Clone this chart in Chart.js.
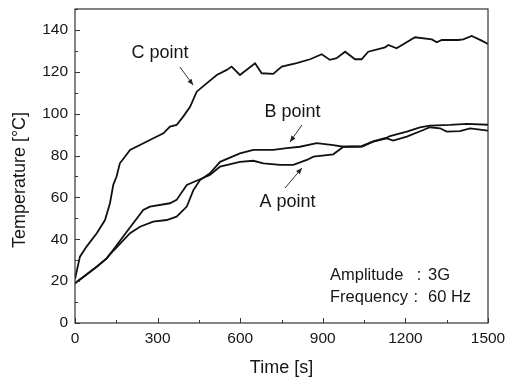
<!DOCTYPE html>
<html>
<head>
<meta charset="utf-8">
<script src="https://cdn.jsdelivr.net/npm/chart.js@4/dist/chart.umd.min.js"></script>
<style>
html,body{margin:0;padding:0;background:#fff;}
canvas{display:block;}
</style>
</head>
<body>
<canvas id="c" width="506" height="380"></canvas>
<script>
// ---- data ----
const tA = [0,30,79,115,139,188,248,272,345,369,406,448,490,527,599,648,684,745,793,842,866,938,975,1041,1083,1132,1156,1205,1265,1289,1326,1350,1398,1435,1500];
const vA = [19,22,26.9,30.9,35,43.6,54,55.6,57.2,58.8,65.9,68.3,70.7,74.7,77,77.5,76.3,75.5,75.5,77.9,79.5,80.6,84.2,84.2,86.6,88.2,87.1,89,92.2,93.5,93,91.4,91.7,93,91.9];

const tB = [0,30,79,115,139,200,236,284,333,369,406,430,454,490,527,599,648,720,769,817,878,938,975,1041,1083,1132,1144,1205,1253,1289,1362,1423,1500];
const vB = [19,22,26.9,30.9,34.5,42.9,46,48.4,49.2,50.8,55.6,63.5,68.3,71.5,77,81,82.7,82.7,83.5,84.2,85.9,85,84.2,84.5,86.8,88.5,89.3,91.4,93.5,94.3,94.6,95.1,94.7];

const tC = [0,18,42,79,109,127,139,151,163,200,272,321,345,369,393,418,442,478,515,551,569,599,654,678,720,751,805,854,896,926,950,981,1017,1041,1065,1126,1138,1168,1235,1296,1314,1332,1392,1410,1441,1477,1500];
const vC = [21,31.7,36.5,42.9,49.2,57.2,66,70,76.3,82.7,87.4,90.6,93.8,94.6,98.6,103.3,110.5,114.5,118.5,120.9,122.5,118.5,124.1,119.3,119,122.5,124.1,126,128.4,125.7,126.5,129.6,126,126,129.6,131.7,132.8,131.2,136.5,135.5,134.1,135.2,135.2,135.5,137.1,134.9,133.3];

const xTicks = [0,300,600,900,1200,1500];
const yTicks = [0,20,40,60,80,100,120,140];
const xTitle = 'Time [s]';
const yTitle = 'Temperature [°C]';
const seriesNames = ['A point','B point','C point'];
const infoLabels = ['Amplitude','Frequency'];
const infoValues = ['3G','60 Hz'];

const FONT = '"Liberation Sans", Arial, sans-serif';
const INK = '#161616';

function pts(t, v){ return t.map((x,i)=>({x:x, y:v[i]})); }

const overlay = {
  id: 'overlay',
  afterDraw(chart){
    const ctx = chart.ctx, xs = chart.scales.x, ys = chart.scales.y, a = chart.chartArea;
    const X = v => xs.getPixelForValue(v), Y = v => ys.getPixelForValue(v);
    ctx.save();
    // frame
    ctx.strokeStyle = '#333'; ctx.lineWidth = 1.2;
    ctx.strokeRect(a.left, a.top, a.right - a.left, a.bottom - a.top);
    // inward ticks
    ctx.strokeStyle = '#333'; ctx.lineWidth = 1;
    for (let v = 0; v <= 1500; v += 150) {
      const len = (v % 300 === 0) ? 5 : 3;
      const px = Math.round(X(v)) + 0.5;
      ctx.beginPath(); ctx.moveTo(px, a.bottom); ctx.lineTo(px, a.bottom - len); ctx.stroke();
    }
    for (let v = 0; v <= 150; v += 10) {
      const len = (v % 20 === 0) ? 5 : 3;
      const py = Math.round(Y(v)) + 0.5;
      ctx.beginPath(); ctx.moveTo(a.left, py); ctx.lineTo(a.left + len, py); ctx.stroke();
    }
    // axis titles
    ctx.fillStyle = INK;
    ctx.font = '18px ' + FONT;
    ctx.textAlign = 'center'; ctx.textBaseline = 'middle';
    ctx.fillText(xTitle, (a.left + a.right) / 2, 368);
    ctx.save();
    ctx.translate(20, 180);
    ctx.rotate(-Math.PI / 2);
    ctx.fillText(yTitle, 0, 0);
    ctx.restore();
    // series labels
    ctx.font = '18px ' + FONT;
    ctx.fillText(seriesNames[2], X(309), Y(129));
    ctx.fillText(seriesNames[1], X(790), Y(100.8));
    ctx.fillText(seriesNames[0], X(772), Y(57.8));
    // arrows
    function arrow(x1, y1, x2, y2){
      const p1 = [X(x1), Y(y1)], p2 = [X(x2), Y(y2)];
      ctx.strokeStyle = '#333'; ctx.lineWidth = 1;
      ctx.beginPath(); ctx.moveTo(p1[0], p1[1]); ctx.lineTo(p2[0], p2[1]); ctx.stroke();
      const ang = Math.atan2(p2[1] - p1[1], p2[0] - p1[0]);
      const L = 6, W = 2.5;
      ctx.fillStyle = '#222';
      ctx.beginPath();
      ctx.moveTo(p2[0], p2[1]);
      ctx.lineTo(p2[0] - L * Math.cos(ang) + W * Math.sin(ang), p2[1] - L * Math.sin(ang) - W * Math.cos(ang));
      ctx.lineTo(p2[0] - L * Math.cos(ang) - W * Math.sin(ang), p2[1] - L * Math.sin(ang) + W * Math.cos(ang));
      ctx.closePath(); ctx.fill();
    }
    arrow(381, 122.3, 429, 113.7);
    arrow(824, 94.6, 781, 86.5);
    arrow(763, 64.5, 824, 74);
    // info box text
    ctx.fillStyle = INK;
    ctx.font = '16.5px ' + FONT;
    ctx.textAlign = 'left';
    ctx.fillText(infoLabels[0], X(926), Y(22.9));
    ctx.fillText(infoLabels[1], X(926), Y(12.4));
    ctx.textAlign = 'center';
    ctx.fillText(':', X(1250), Y(22.9));
    ctx.fillText(':', X(1238), Y(12.4));
    ctx.textAlign = 'left';
    ctx.fillText(infoValues[0], X(1282), Y(22.9));
    ctx.fillText(infoValues[1], X(1282), Y(12.4));
    ctx.restore();
  }
};

const lineStyle = { borderColor: '#111', borderWidth: 1.8, pointRadius: 0, tension: 0, fill: false };

new Chart(document.getElementById('c'), {
  type: 'line',
  data: {
    datasets: [
      Object.assign({ label: seriesNames[0], data: pts(tA, vA) }, lineStyle),
      Object.assign({ label: seriesNames[1], data: pts(tB, vB) }, lineStyle),
      Object.assign({ label: seriesNames[2], data: pts(tC, vC) }, lineStyle)
    ]
  },
  options: {
    responsive: false,
    devicePixelRatio: 1,
    animation: false,
    layout: { padding: { top: 9, right: 18, left: 0, bottom: 0 } },
    plugins: { legend: { display: false }, tooltip: { enabled: false } },
    scales: {
      x: {
        type: 'linear', min: 0, max: 1500,
        afterFit: s => { s.height = 57; s.paddingLeft = 0; s.paddingRight = 0; },
        afterBuildTicks: s => { s.ticks = xTicks.map(v => ({ value: v })); },
        grid: { display: false, drawTicks: false },
        border: { display: false },
        ticks: { color: INK, font: { family: FONT, size: 15.5 }, padding: 6, maxRotation: 0, autoSkip: false,
                 callback: v => String(v) }
      },
      y: {
        type: 'linear', min: 0, max: 150,
        afterFit: s => { s.width = 75; s.paddingTop = 0; s.paddingBottom = 0; },
        afterBuildTicks: s => { s.ticks = yTicks.map(v => ({ value: v })); },
        grid: { display: false, drawTicks: false },
        border: { display: false },
        ticks: { color: INK, font: { family: FONT, size: 15.5 }, padding: 7, autoSkip: false,
                 callback: v => String(v) }
      }
    }
  },
  plugins: [overlay]
});
</script>
</body>
</html>
